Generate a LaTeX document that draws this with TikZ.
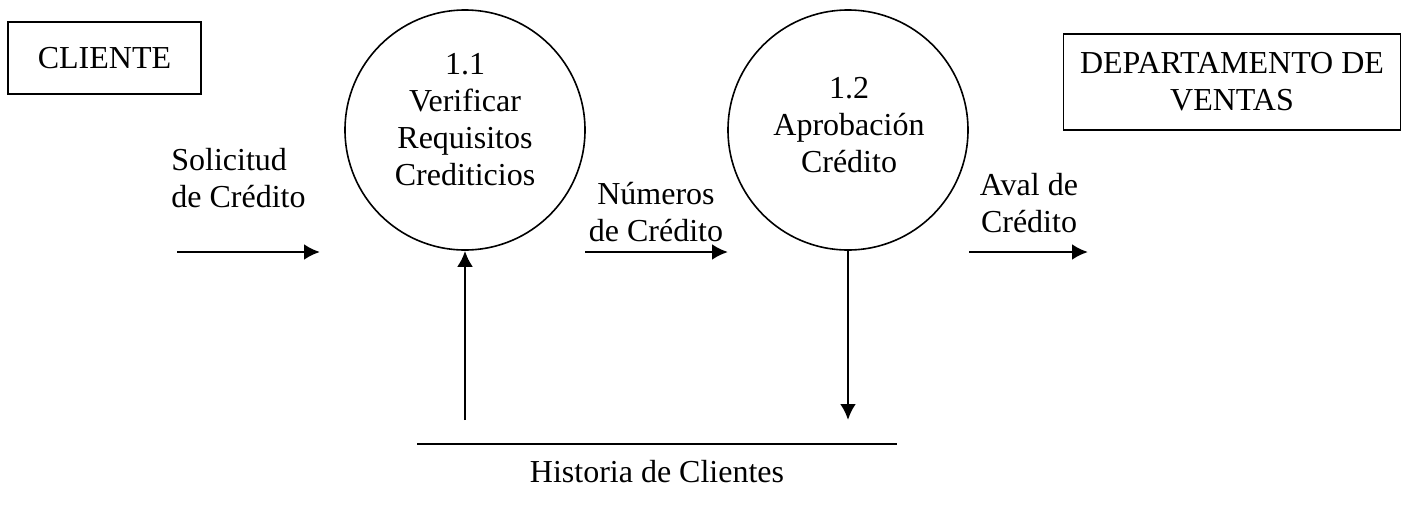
\documentclass[tikz,border=0pt]{standalone}
\usepackage{fontspec}
\setmainfont{Liberation Serif}
\usetikzlibrary{arrows.meta}

\begin{document}
\begin{tikzpicture}[x=0.5pt,y=-0.5pt]
\tikzset{every node/.style={font=\fontsize{16}{18.5}\selectfont}}
\tikzset{process/.style = {shape=circle,draw,line width=0.8pt,minimum size=120pt,inner sep=0pt}}
\tikzset{proctext/.style = {align=center,inner sep=0pt}}
\tikzset{entity/.style = {shape=rectangle,draw,line width=0.7pt,align=center}}
\tikzset{flowtext/.style = {align=center,inner sep=0pt}}
\tikzset{flow/.style = {line width=1.4pt,-{Latex[length=8pt,width=8pt]}}}
\useasboundingbox (0,0) rectangle (1408,515);
% entities
\node[entity,minimum width=96.5pt,minimum height=36pt] (cli) at (104.5,58) {CLIENTE};
\node[entity,minimum width=168.5pt,minimum height=48pt] (dep) at (1232,82) {DEPARTAMENTO DE\\VENTAS};
% processes
\node[process] (p1) at (465,130) {};
\node[process] (p2) at (848,130) {};
\node[proctext] (t1) at (465,120) {1.1\\Verificar\\Requisitos\\Crediticios};
\node[proctext] (t2) at (849,125) {1.2\\Aprobación\\Crédito};
% store
\coordinate (s1) at (417,444);
\coordinate (s2) at (897,444);
\node (st) at (657,472) {Historia de Clientes};
% flow ends
\coordinate (a1) at (177,252);
\coordinate (a2) at (320,252);
\coordinate (b1) at (585,252);
\coordinate (b2) at (728,252);
\coordinate (c1) at (969,252);
\coordinate (c2) at (1088,252);
\coordinate (d1) at (465,420);
\coordinate (e1) at (848,420);
% flow labels
\node[flowtext,align=left] (l1) at (238.5,178) {Solicitud\\de Crédito};
\node[flowtext] (l2) at (656,212) {Números\\de Crédito};
\node[flowtext] (l3) at (1029,203) {Aval de\\Crédito};

%edges
\draw[flow] (a1) -- (a2);
\draw[flow] (b1) -- (b2);
\draw[flow] (c1) -- (c2);
\draw[flow] (d1) -- (p1.south);
\draw[flow] (p2.south) -- (e1);
\draw[line width=1pt] (s1) -- (s2);
\end{tikzpicture}
\end{document}
